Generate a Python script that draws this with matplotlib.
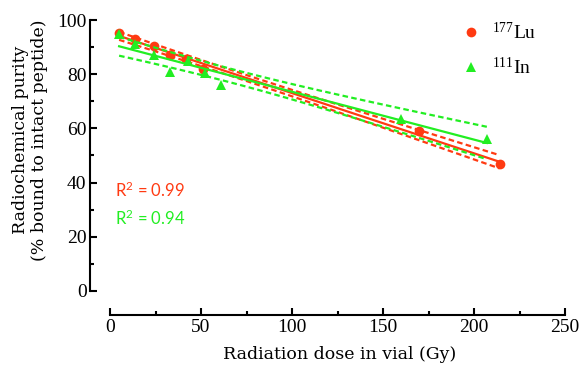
import numpy as np
import matplotlib
matplotlib.use("Agg")
import matplotlib.pyplot as plt
from matplotlib.ticker import MultipleLocator

plt.rcParams['font.family'] = 'Liberation Serif'
plt.rcParams['mathtext.default'] = 'regular'

# data
lu_dose = [5, 14, 24, 33, 42, 51, 170, 214]
lu_purity = [95.2, 93.0, 90.5, 87.0, 85.5, 82.0, 59.0, 47.0]
in_dose = [5, 14, 24, 33, 43, 52, 61, 160, 207]
in_purity = [95.0, 91.0, 87.0, 81.0, 85.0, 80.5, 76.0, 63.5, 56.0]
r2_labels = ["R$^2$ = 0.99", "R$^2$ = 0.94"]
t_vals = [2.447, 2.365]  # t(0.975) for df = 6 and 7

red = '#ff3a12'
green = '#22ee22'

fig = plt.figure(figsize=(5.79, 3.65), dpi=100)
ax = fig.add_axes([0.19, 0.203, 0.786, 0.742])


def fit_band(x, y, t):
    x = np.asarray(x, float)
    y = np.asarray(y, float)
    n = len(x)
    b, a = np.polyfit(x, y, 1)
    res = y - (a + b * x)
    s = np.sqrt(np.sum(res ** 2) / (n - 2))
    xx = np.linspace(x.min(), x.max(), 100)
    yy = a + b * xx
    se = s * np.sqrt(1 / n + (xx - x.mean()) ** 2 / np.sum((x - x.mean()) ** 2))
    return xx, yy, yy - t * se, yy + t * se


for x, y, t, c, mk, lab in [(lu_dose, lu_purity, t_vals[0], red, 'o', '$^{177}$Lu'),
                            (in_dose, in_purity, t_vals[1], green, '^', '$^{111}$In')]:
    xx, yy, lo, hi = fit_band(x, y, t)
    ax.plot(xx, yy, color=c, lw=1.6)
    ax.plot(xx, lo, color=c, lw=1.6, ls=(0, (2.5, 1.5)))
    ax.plot(xx, hi, color=c, lw=1.6, ls=(0, (2.5, 1.5)))
    ax.plot(x, y, mk, color=c, ms=7, mew=0, ls='none', label=lab, clip_on=False)

ax.text(3, 34.5, r2_labels[0], color=red, fontsize=12, family='Lato')
ax.text(3, 24.5, r2_labels[1], color=green, fontsize=12, family='Lato')

ax.legend(loc='upper left', bbox_to_anchor=(0.75, 0.995), frameon=False, fontsize=14,
          handlelength=2.0, handletextpad=0.1, labelspacing=0.72,
          borderaxespad=0, borderpad=0)

ax.set_xlim(0, 250)
ax.set_ylim(0, 100)
ax.xaxis.set_major_locator(MultipleLocator(50))
ax.xaxis.set_minor_locator(MultipleLocator(25))
ax.yaxis.set_major_locator(MultipleLocator(20))
ax.yaxis.set_minor_locator(MultipleLocator(10))
ax.spines['top'].set_visible(False)
ax.spines['right'].set_visible(False)
ax.spines['bottom'].set_position(('outward', 17.3))
ax.spines['left'].set_position(('outward', 14.4))
for sp in ('left', 'bottom'):
    ax.spines[sp].set_linewidth(1.5)
ax.tick_params(which='both', direction='in', width=1.5, labelsize=14)
ax.tick_params(which='major', length=5)
ax.tick_params(which='minor', length=3)
ax.tick_params(axis='y', pad=2.5)
ax.tick_params(axis='x', pad=3)

ax.set_xlabel("Radiation dose in vial (Gy)", fontsize=12.5, family='DejaVu Serif')
ax.set_ylabel("Radiochemical purity\n(% bound to intact peptide)", fontsize=12.5,
              family='DejaVu Serif')
ax.xaxis.set_label_coords(0.505, -0.205)
ax.yaxis.set_label_coords(-0.136, 0.557)

fig.savefig("out.png", dpi=100)
